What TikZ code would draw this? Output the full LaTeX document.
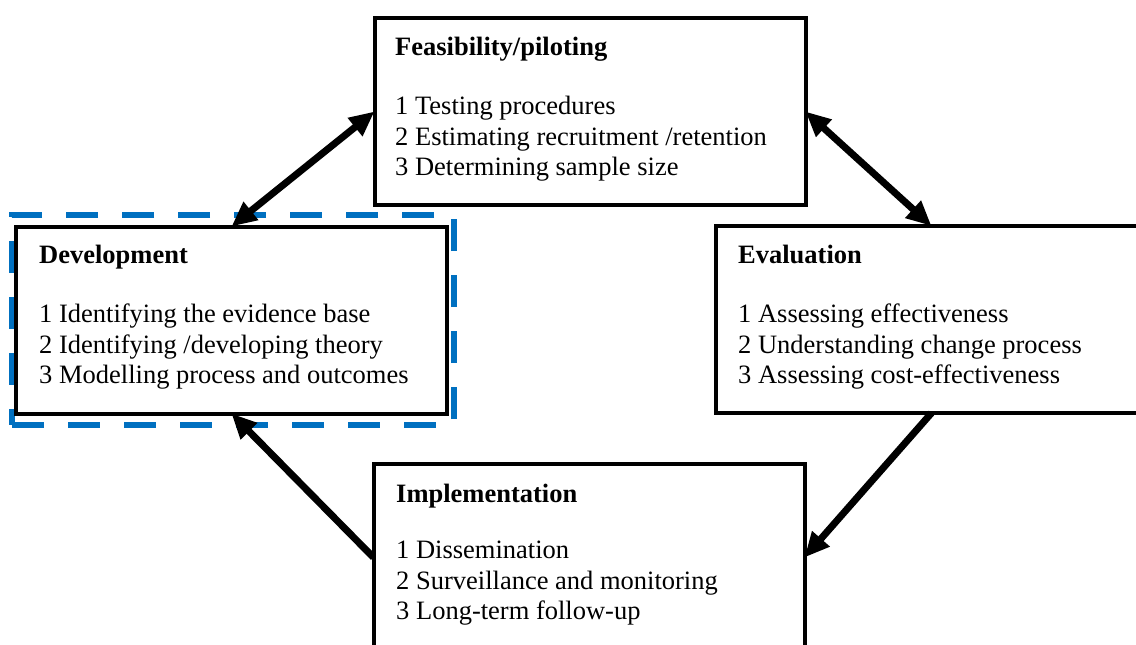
\documentclass[tikz,border=0pt]{standalone}
\usepackage{fontspec}
\setmainfont{Liberation Serif}
\usetikzlibrary{arrows.meta}
\definecolor{dashblue}{RGB}{0,112,192}
\tikzset{
  stage/.style={draw=black, line width=4pt, fill=white, rectangle,
    minimum width=431pt, minimum height=187pt, inner sep=0pt, outer sep=0pt},
  stagetext/.style={anchor=north west, align=left, inner sep=0pt,
    font=\fontsize{26.5}{30.5}\selectfont},
  highlight/.style={draw=dashblue, line width=6pt, dash pattern=on 32pt off 24pt,
    minimum width=442pt, minimum height=210pt, inner sep=0pt},
  flow/.style={line width=7pt, -{Triangle[length=25pt,width=22pt]}},
  twoway/.style={line width=7pt, {Triangle[length=25pt,width=22pt]}-{Triangle[length=25pt,width=22pt]}}
}
\begin{document}
\begin{tikzpicture}[x=1pt,y=-1pt]
  \useasboundingbox (0,0) rectangle (1136,645);
  \clip (0,0) rectangle (1136,645);

  % dashed frame round the first stage
  \node[highlight] (hl) at (233,320) {};

  % the four stages
  \node[stage] (feas) at (590,111.5) {};
  \node[stage] (dev)  at (231.5,320) {};
  \node[stage] (eval) at (931.5,319.5) {};
  \node[stage] (impl) at (589,557.5) {};

  \node[stagetext] (feastext) at (395,37) {\textbf{Feasibility/piloting}\\[28.5pt]
    1 Testing procedures\\
    2 Estimating recruitment /retention\\
    3 Determining sample size};
  \node[stagetext] (devtext) at (39,245) {\textbf{Development}\\[28.5pt]
    1 Identifying the evidence base\\
    2 Identifying /developing theory\\
    3 Modelling process and outcomes};
  \node[stagetext] (evaltext) at (738,245) {\textbf{Evaluation}\\[28.5pt]
    1 Assessing effectiveness\\
    2 Understanding change process\\
    3 Assessing cost-effectiveness};
  \node[stagetext] (impltext) at (396,484) {\textbf{Implementation}\\[25.5pt]
    1 Dissemination\\
    2 Surveillance and monitoring\\
    3 Long-term follow-up};

  % connectors
  \draw[twoway] (dev.north) -- (feas.west);
  \draw[twoway] (feas.east) -- (eval.north);
  \draw[flow] (eval.south) -- (impl.east);
  \draw[flow] (impl.west) -- (dev.south);
\end{tikzpicture}
\end{document}
